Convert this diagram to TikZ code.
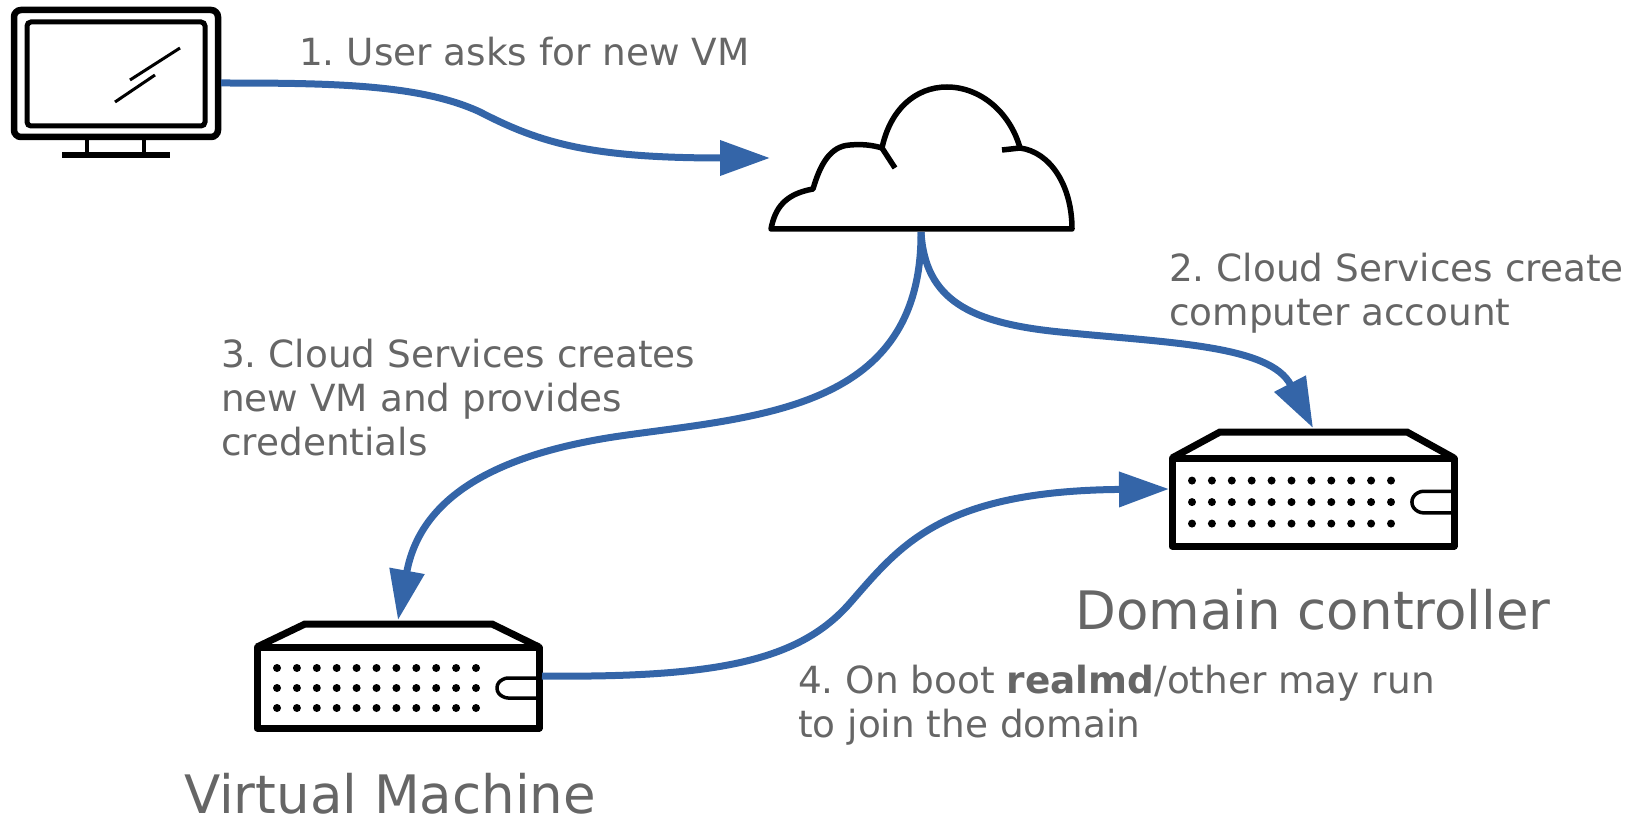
\documentclass[tikz,border=0pt]{standalone}
\usepackage{fontspec}
\setmainfont{DejaVu Sans}
\usetikzlibrary{arrows.meta}

\definecolor{flowblue}{HTML}{3465A8}
\definecolor{labelgrey}{HTML}{666666}

\tikzset{
    flow/.style={draw=flowblue, line width=7pt, -{Triangle[length=50pt,width=34pt]}},
    steplabel/.style={text=labelgrey, inner sep=0pt, anchor=north west, align=left, font=\fontsize{37.4}{44}\selectfont\frenchspacing},
    titlelabel/.style={text=labelgrey, inner sep=0pt, anchor=base, font=\fontsize{53}{60}\selectfont},
    iconbox/.style={inner sep=0pt, outer sep=0pt, anchor=north west},
    server/.pic={
        \node[iconbox, minimum width=288pt, minimum height=\vServerHeight pt] (-box) at (0,0) {};
        \draw[line width=7pt, line join=round] (3,{\vServerBody}) -- (3,{\vServerHeight-4}) -- (285,{\vServerHeight-4}) -- (285,{\vServerBody}) -- cycle;
        \draw[line width=7pt] (3,{\vServerBody}) -- (51,4) -- (238,4) -- (285,{\vServerBody});
        \foreach \vRow in {0,1,2} {
            \foreach \vCol in {0,...,10} {
                \fill ({23+19.9*\vCol},{\vServerBody+1.05*\vServerRow+\vRow*\vServerRow}) circle (4pt);
            }
        }
        \draw[line width=3.5pt, rounded corners=6pt] (285,{\vServerBody+1.55*\vServerRow}) -- (248,{\vServerBody+1.55*\vServerRow}) -- (241,{\vServerBody+2.05*\vServerRow}) -- (248,{\vServerBody+2.55*\vServerRow}) -- (285,{\vServerBody+2.55*\vServerRow});
    }
}

\begin{document}
\begin{tikzpicture}[x=1pt, y=-1pt]
    \useasboundingbox (0,0) rectangle (1631,818);

    % monitor
    \node[iconbox, minimum width=210pt, minimum height=152pt] (monitor) at (11,7) {};
    \draw[line width=6.5pt, rounded corners=7pt] (14,10) rectangle (218,137);
    \draw[line width=5pt, rounded corners=4pt] (27,22) rectangle (205,126);
    \draw[line width=4.5pt] (87,137) -- (87,155);
    \draw[line width=4.5pt] (144,137) -- (144,155);
    \draw[line width=5.5pt] (62,155) -- (170,155);
    \draw[line width=3pt] (130,80) -- (180,48);
    \draw[line width=3pt] (115,102) -- (155,75);

    % cloud
    \node[iconbox, minimum width=302pt, minimum height=148pt] (cloud) at (770,84) {};
    \draw[line width=5.5pt, line join=round] (771,229)
        .. controls (775,208) and (785,194) .. (813,189)
        .. controls (820,165) and (830,146) .. (850,145)
        .. controls (862,144) and (872,145) .. (882,148)
        .. controls (890,110) and (915,87) .. (947,87)
        .. controls (980,87) and (1010,112) .. (1020,148)
        .. controls (1050,152) and (1072,185) .. (1072,229) -- cycle;
    \draw[line width=5.5pt] (882,148) -- (895,168);
    \draw[line width=5.5pt] (1020,148) -- (1002,150);

    % servers
    \pgfmathsetmacro{\vServerHeight}{112}
    \pgfmathsetmacro{\vServerBody}{27}
    \pgfmathsetmacro{\vServerRow}{20}
    \pic (vm) at (254,620) {server};
    \pgfmathsetmacro{\vServerHeight}{122}
    \pgfmathsetmacro{\vServerBody}{30}
    \pgfmathsetmacro{\vServerRow}{21.5}
    \pic (dc) at (1169,428) {server};

    % connectors
    \draw[flow] (monitor.east) .. controls (330,83) and (420,84) .. (480,112)
        .. controls (540,143) and (590,158) .. (cloud.west);
    \draw[flow] (cloud.south) .. controls (925,300) and (970,323) .. (1060,332)
        .. controls (1170,343) and (1270,345) .. (dc-box.north);
    \draw[flow] (cloud.south) .. controls (922,410) and (760,416) .. (620,436)
        .. controls (490,455) and (420,500) .. (vm-box.north);
    \draw[flow] (vm-box.east) .. controls (720,678) and (800,660) .. (850,603)
        .. controls (900,546) and (940,491) .. (dc-box.west);

    % labels
    \node[steplabel] (askLabel) at (299,37) {1. User asks for new VM};
    \node[steplabel] (accountLabel) at (1169,253) {2. Cloud Services create\\computer account};
    \node[steplabel] (createLabel) at (221,339) {3. Cloud Services creates\\new VM and provides\\credentials};
    \node[steplabel] (joinLabel) at (798,665) {4. On boot \textbf{realmd}/other may run\\to join the domain};
    \node[titlelabel] (dcLabel) at (1313,629) {Domain controller};
    \node[titlelabel] (vmLabel) at (390,813) {Virtual Machine};
\end{tikzpicture}
\end{document}
